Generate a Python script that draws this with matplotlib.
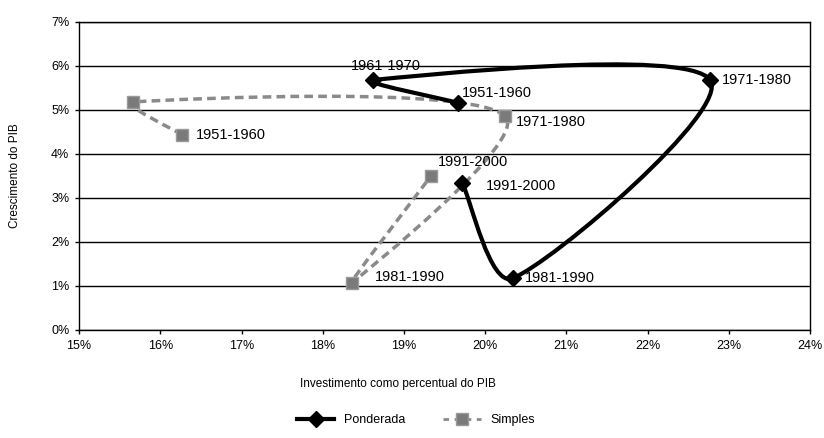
import matplotlib.pyplot as plt
from matplotlib.path import Path
from matplotlib.patches import PathPatch
from matplotlib.lines import Line2D
import math

plt.rcParams['font.family'] = ['Liberation Sans Narrow', 'Liberation Sans', 'DejaVu Sans']

periods = ["1951-1960", "1961-1970", "1971-1980", "1981-1990", "1991-2000"]
pond_inv = [19.67, 18.62, 22.77, 20.34, 19.72]
pond_gdp = [5.16, 5.68, 5.68, 1.17, 3.33]
simp_inv = [16.27, 15.66, 20.24, 18.36, 19.33]
simp_gdp = [4.43, 5.18, 4.87, 1.07, 3.49]

# label offsets in pixels (text left-aligned)
pond_offsets = [(4, 10), (-22, 14), (12, 0), (12, 0), (23, -3)]
simp_offsets = [(14, 0), None, (11, -6), (23, 6), (7, 14)]

# rough pixel size of one axis unit, used so smoothing behaves like Excel's
XS, YS = 81.2, 44.0


def smooth_path(xs, ys):
    # smoothed line: cubic Beziers, tangent arms limited by the shorter neighbour segment
    pts = [(x * XS, y * YS) for x, y in zip(xs, ys)]
    n = len(pts)

    def dist(a, b):
        return math.hypot(b[0] - a[0], b[1] - a[1])

    def weight(a, b, c):
        la, lb = dist(a, b), dist(b, c)
        if la == 0 or lb == 0:
            return 1 / 6
        return 0.5 * (min(la, lb) + lb) / (la + lb) / 3

    verts = [pts[0]]
    codes = [Path.MOVETO]
    for i in range(n - 1):
        p0 = pts[i - 1] if i > 0 else pts[i]
        p1 = pts[i]
        p2 = pts[i + 1]
        p3 = pts[i + 2] if i + 2 < n else pts[i + 1]
        w1 = weight(p0, p1, p2)
        w2 = weight(p3, p2, p1)
        c1 = (p1[0] + (p2[0] - p0[0]) * w1, p1[1] + (p2[1] - p0[1]) * w1)
        c2 = (p2[0] - (p3[0] - p1[0]) * w2, p2[1] - (p3[1] - p1[1]) * w2)
        verts += [c1, c2, p2]
        codes += [Path.CURVE4] * 3
    verts = [(x / XS, y / YS) for x, y in verts]
    return Path(verts, codes)


fig = plt.figure(figsize=(8.24, 4.38), dpi=100)
ax = fig.add_axes([0.096, 0.247, 0.887, 0.703])

ax.set_xlim(15, 24)
ax.set_ylim(0, 7)
ax.set_xticks(range(15, 25))
ax.set_xticklabels([f"{v}%" for v in range(15, 25)])
ax.set_yticks(range(0, 8))
ax.set_yticklabels([f"{v}%" for v in range(0, 8)])
ax.tick_params(direction='out', length=3, width=1, labelsize=9, colors='black', pad=4)
ax.grid(axis='y', color='black', linewidth=1)
ax.set_axisbelow(True)
for s in ax.spines.values():
    s.set_color('black')
    s.set_linewidth(1)

ax.add_patch(PathPatch(smooth_path(simp_inv, simp_gdp), facecolor='none',
                       edgecolor='#8a8a8a', linewidth=2.5, linestyle=(0, (2.5, 1.5)), zorder=3))
ax.plot(simp_inv, simp_gdp, linestyle='none', marker='s', markersize=8,
        markerfacecolor='#7a7a7a', markeredgecolor='#9a9a9a', zorder=4)

ax.add_patch(PathPatch(smooth_path(pond_inv, pond_gdp), facecolor='none',
                       edgecolor='black', linewidth=3, zorder=5))
ax.plot(pond_inv, pond_gdp, linestyle='none', marker='D', markersize=8,
        color='black', zorder=6)

for i, p in enumerate(periods):
    ax.annotate(p, (pond_inv[i], pond_gdp[i]), xytext=pond_offsets[i],
                textcoords='offset pixels', fontsize=10.5, va='center', ha='left')
    if simp_offsets[i] is not None:
        ax.annotate(p, (simp_inv[i], simp_gdp[i]), xytext=simp_offsets[i],
                    textcoords='offset pixels', fontsize=10.5, va='center', ha='left')

fig.text(0.483, 0.123, "Investimento como percentual do PIB", fontsize=8.5, ha='center', va='center')
fig.text(0.018, 0.60, "Crescimento do PIB", fontsize=8.5, ha='center', va='center', rotation=90)

handles = [
    Line2D([], [], color='black', linewidth=3, marker='D', markersize=8),
    Line2D([], [], color='#8a8a8a', linewidth=2, linestyle=(0, (2, 2)), marker='s', markersize=8,
           markerfacecolor='#7a7a7a', markeredgecolor='#9a9a9a'),
]
fig.legend(handles, ["Ponderada", "Simples"], loc='center', bbox_to_anchor=(0.505, 0.04),
           ncol=2, frameon=False, fontsize=9, handlelength=3, columnspacing=3)

fig.savefig("out.png", dpi=100)
